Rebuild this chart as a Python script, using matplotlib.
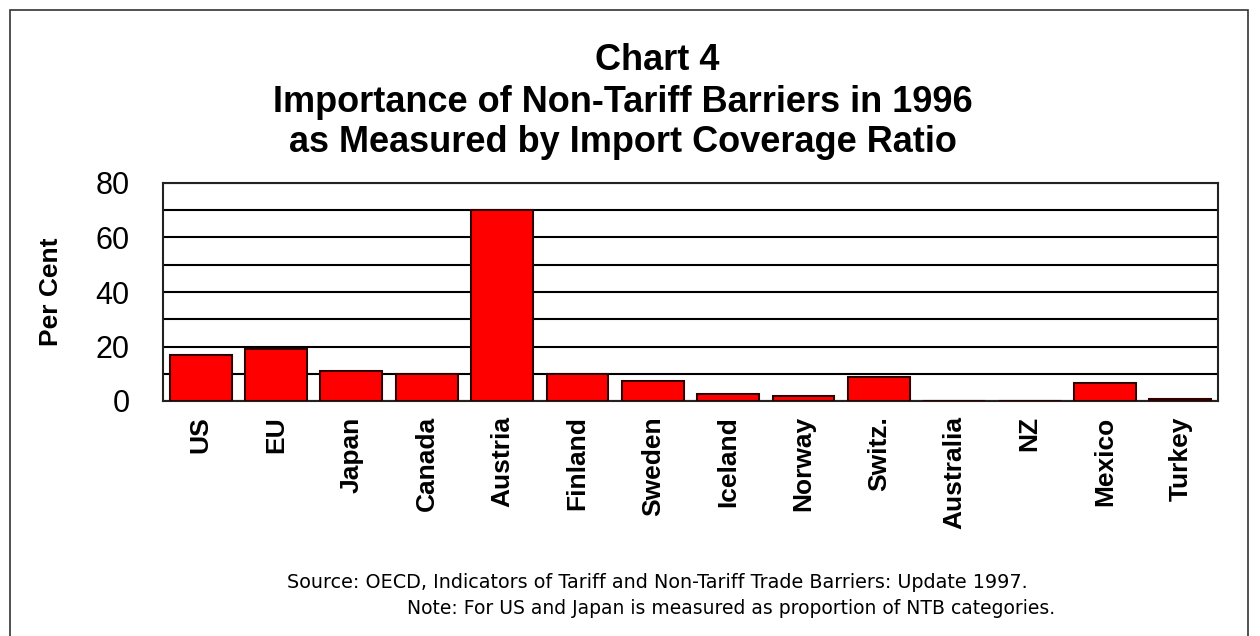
import matplotlib.pyplot as plt
from matplotlib.patches import Rectangle
import numpy as np

plt.rcParams['font.family'] = ['Liberation Sans', 'DejaVu Sans']

# data
countries = ['US', 'EU', 'Japan', 'Canada', 'Austria', 'Finland', 'Sweden',
             'Iceland', 'Norway', 'Switz.', 'Australia', 'NZ', 'Mexico', 'Turkey']
coverage = [16.8, 19.0, 10.9, 9.8, 70.2, 9.8, 7.2, 2.7, 2.0, 8.7, 0, 0, 6.6, 0.6]
yticks = [0, 20, 40, 60, 80]

W, H = 1260, 636
fig = plt.figure(figsize=(12.6, 6.36), dpi=100)
fig.patch.set_facecolor('white')

# outer frame of the picture
fig.patches.append(Rectangle((10 / W, -0.01), 1238 / W, 1 - 10 / H + 0.01,
                             transform=fig.transFigure, fill=False,
                             edgecolor='#333333', linewidth=1.2))

ax = fig.add_axes([163 / W, 235 / H, 1055 / W, 218 / H])
x = np.arange(len(countries))
ax.set_axisbelow(True)
ax.yaxis.grid(True, color='black', linewidth=1.5)
ax.bar(x, coverage, width=0.82, color='#ff0000', edgecolor='#300000', linewidth=1.5, zorder=3)

ax.set_xlim(-0.5, len(countries) - 0.5)
ax.set_ylim(0, 80)
ax.set_yticks(np.arange(0, 81, 10))
ax.set_yticklabels([str(v) if v in yticks else '' for v in range(0, 81, 10)], fontsize=22)
ax.set_xticks(x)
ax.set_xticklabels(countries, rotation=90, fontsize=19, fontweight='bold')
ax.tick_params(length=0, axis='both')
ax.tick_params(axis='y', pad=24)
ax.tick_params(axis='x', pad=11)
for s in ax.spines.values():
    s.set_linewidth(1.5)
    s.set_color('#222222')

fig.text(51 / W, 1 - 292 / H, 'Per Cent', rotation=90, ha='center', va='center',
         fontsize=19, fontweight='bold')

fig.text(657 / W, 1 - 60 / H, 'Chart 4', ha='center', va='center', fontsize=26, fontweight='bold')
fig.text(623 / W, 1 - 102 / H, 'Importance of Non-Tariff Barriers in 1996', ha='center', va='center',
         fontsize=26, fontweight='bold')
fig.text(623 / W, 1 - 142 / H, 'as Measured by Import Coverage Ratio', ha='center', va='center',
         fontsize=26, fontweight='bold')

fig.text(657 / W, 1 - 582 / H,
         'Source: OECD, Indicators of Tariff and Non-Tariff Trade Barriers: Update 1997.',
         ha='center', va='center', fontsize=13.8, family='DejaVu Sans')
fig.text(1055 / W, 1 - 608 / H,
         'Note: For US and Japan is measured as proportion of NTB categories.',
         ha='right', va='center', fontsize=13.5, family='DejaVu Sans')

fig.savefig('out.png', dpi=100)
